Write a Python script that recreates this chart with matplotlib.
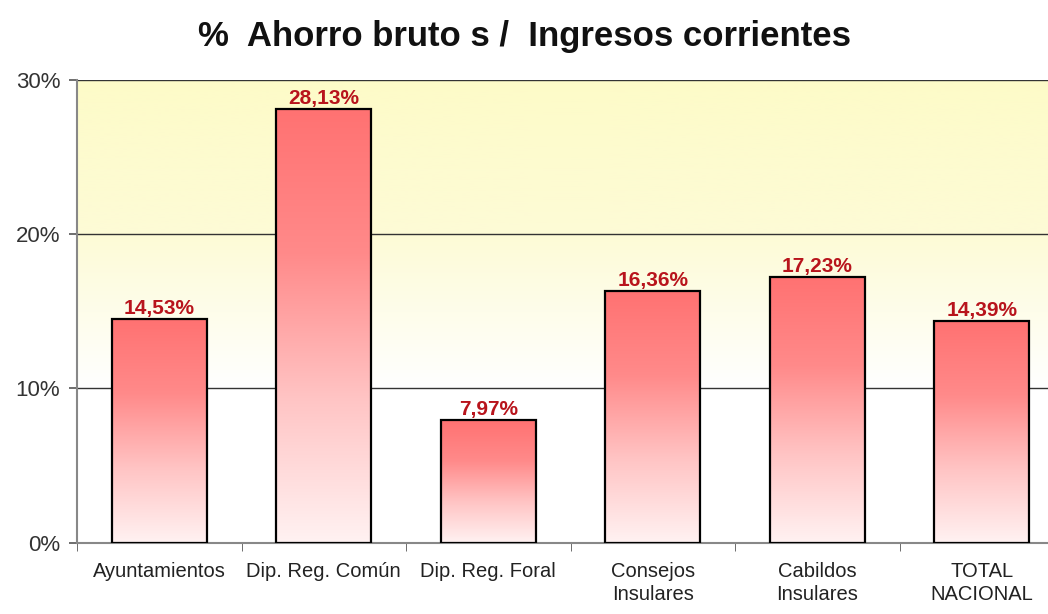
import matplotlib
matplotlib.use("Agg")
import matplotlib.pyplot as plt
import numpy as np
from matplotlib.colors import LinearSegmentedColormap

plt.rcParams['font.family'] = ['Liberation Sans Narrow', 'Liberation Sans', 'DejaVu Sans']

categories = ["Ayuntamientos", "Dip. Reg. Común", "Dip. Reg. Foral",
              "Consejos\nInsulares", "Cabildos\nInsulares", "TOTAL\nNACIONAL"]
values = [14.53, 28.13, 7.97, 16.36, 17.23, 14.39]
labels = ["14,53%", "28,13%", "7,97%", "16,36%", "17,23%", "14,39%"]

fig = plt.figure(figsize=(10.48, 6.14), dpi=100)
ax = fig.add_axes([0.0735, 0.1164, 0.9418, 0.7526])

x = np.arange(len(categories))
bars = ax.bar(x, values, width=0.575, facecolor='none', edgecolor='black',
              linewidth=1.6, zorder=3)

# background gradient: pale yellow top -> white bottom
bg_cmap = LinearSegmentedColormap.from_list("bg", ["#ffffff", "#ffffff", "#fdfbd6", "#fdfbc8"])
grad = np.linspace(0, 1, 256).reshape(-1, 1)
ax.imshow(grad, aspect='auto', cmap=bg_cmap, origin='lower',
          extent=[0, 1, 0, 1], transform=ax.transAxes, zorder=0)

# bar gradient: salmon red top -> pale pink bottom
bar_cmap = LinearSegmentedColormap.from_list("bar", ["#fff2f2", "#ffc4c4", "#ff8a8a", "#ff7272"])
for b in bars:
    x0, y0 = b.get_x(), b.get_y()
    w, h = b.get_width(), b.get_height()
    im = ax.imshow(grad, aspect='auto', cmap=bar_cmap, origin='lower',
                   extent=[x0, x0 + w, y0, y0 + h], zorder=2)
    im.set_clip_path(b)

for xi, v, lab in zip(x, values, labels):
    ax.text(xi, v + 0.05, lab, ha='center', va='bottom', color='#b8141c',
            fontsize=15, fontweight='bold', zorder=4)

ax.set_xlim(-0.5, len(categories) - 0.5)
ax.set_ylim(0, 30)
ax.set_yticks([0, 10, 20, 30])
ax.set_yticklabels(["0%", "10%", "20%", "30%"], fontsize=16, color='#333333')
ax.yaxis.grid(True, color='#333333', linewidth=1.0, zorder=1)
ax.set_axisbelow(True)

ax.set_xticks(x)
ax.set_xticklabels(categories, fontsize=14.5, color='#222222', linespacing=1.3)
ax.tick_params(axis='x', length=0, pad=14)
ax.set_xticks(np.arange(len(categories) + 1) - 0.5, minor=True)
ax.tick_params(axis='x', which='minor', length=6, color='#555555', direction='out')
ax.tick_params(axis='y', length=6, color='#555555', width=1.2, pad=6)

for s in ['top', 'right']:
    ax.spines[s].set_visible(False)
ax.spines['left'].set_color('#888888')
ax.spines['left'].set_linewidth(1.5)
ax.spines['bottom'].set_color('#888888')
ax.spines['bottom'].set_linewidth(1.5)

fig.text(0.5, 0.94, "%  Ahorro bruto s /  Ingresos corrientes", ha='center', va='center',
         fontsize=25, fontweight='bold', color='#111111')

fig.savefig("out.png", dpi=100)
